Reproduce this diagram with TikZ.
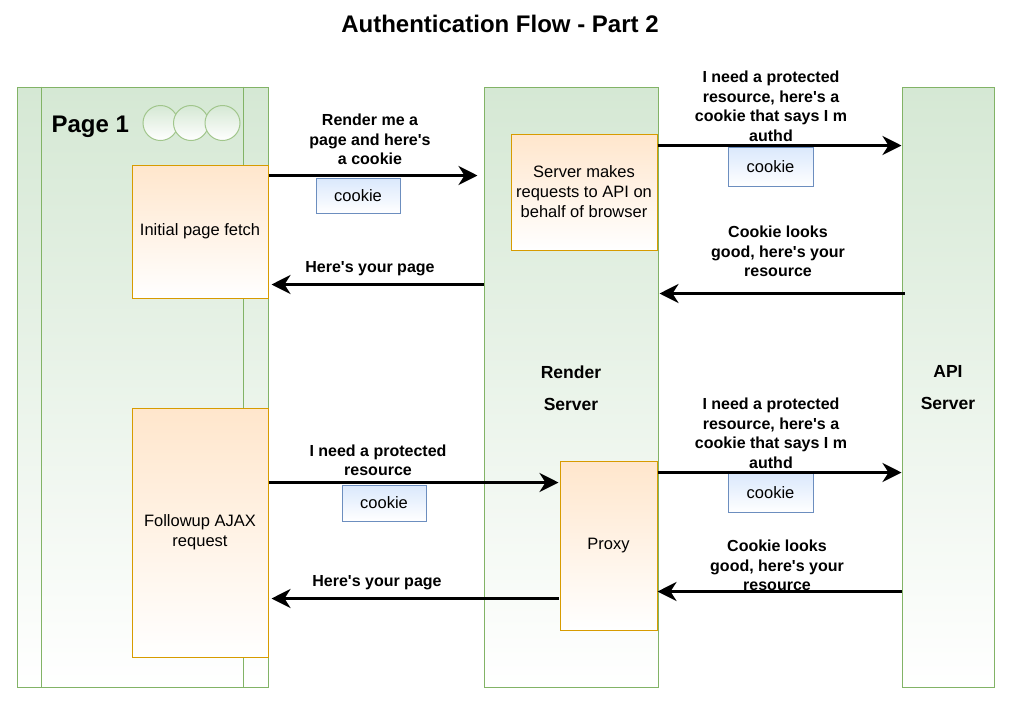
\documentclass[tikz,border=0pt]{standalone}
\usepackage{fontspec}
\setmainfont{Liberation Sans}[Ligatures=TeXOff]
\usetikzlibrary{positioning,calc,arrows.meta}
\definecolor{lanefill}{HTML}{D5E8D4}
\definecolor{laneline}{HTML}{82B366}
\definecolor{stepfill}{HTML}{FFE6CC}
\definecolor{stepline}{HTML}{D79B00}
\definecolor{tokfill}{HTML}{DAE8FC}
\definecolor{tokline}{HTML}{6C8EBF}

\begin{document}
\begin{tikzpicture}[x=1pt, y=-1pt,
        lane/.style={draw=laneline, line width=1pt, top color=lanefill, bottom color=white, minimum width=#1, minimum height=600pt, inner sep=0pt},
        stepbox/.style={draw=stepline, line width=1pt, top color=stepfill, bottom color=white, inner sep=0pt, align=center, font=\fontsize{16.5}{20}\selectfont},
        token/.style={draw=tokline, line width=1pt, top color=tokfill, bottom color=white, minimum width=84pt, inner sep=0pt, font=\fontsize{16.5}{20}\selectfont},
        dot/.style={circle, draw=laneline!75!white, line width=1pt, top color=lanefill, bottom color=white, minimum size=35pt, inner sep=0pt},
        msg/.style={align=center, font=\bfseries\fontsize{16}{19.5}\selectfont, yshift=-2.5pt},
        lanename/.style={align=center, font=\bfseries\fontsize{17.5}{32}\selectfont, yshift=-1pt},
        flow/.style={line width=3.2pt, -{Stealth[length=19pt, width=19pt, inset=6pt]}}
    ]
        \useasboundingbox (0,0) rectangle (1017,705);
        \node [font=\bfseries\fontsize{24}{28}\selectfont] (title) at (500,24) {Authentication Flow - Part 2};

        % lanes
        \node [lane=251pt] (page1) at (142.5,387) {};
        \draw [laneline, line width=1pt] ($(page1.north west)+(25,0)$) -- ($(page1.south west)+(25,0)$);
        \draw [laneline, line width=1pt] ($(page1.north east)+(-25,0)$) -- ($(page1.south east)+(-25,0)$);
        \node [lane=174pt] (render) at (571,387) {};
        \node [lane=92pt] (api) at (948,387) {};
        \node [lanename] at (render) {Render\\Server};
        \node [lanename] at (api) {API\\Server};

        \node [anchor=west, font=\bfseries\fontsize{24}{28}\selectfont] (pagename) at (48,127) {Page 1};
        \node [dot] (d1) at (160.5,123) {};
        \node [dot] (d2) at (191,123) {};
        \node [dot] (d3) at (222.5,123) {};

        % steps
        \node [stepbox, minimum width=136pt, minimum height=133pt] (fetch) at (200,231.5) {Initial page fetch};
        \node [stepbox, minimum width=136pt, minimum height=249pt] (ajax) at (200,532.5) {Followup AJAX\\request};
        \node [stepbox, minimum width=146pt, minimum height=116pt] (server) at (584,192) {Server makes\\requests to API on\\behalf of browser};
        \node [stepbox, minimum width=97pt, minimum height=169pt] (proxy) at (608.5,545.5) {Proxy};

        % cookies
        \node [token, minimum height=35pt] (c1) at (358,195.5) {cookie};
        \node [token, minimum width=85pt, minimum height=39pt] (c2) at (770.5,166.5) {cookie};
        \node [token, minimum height=36pt] (c3) at (384,503) {cookie};
        \node [token, minimum width=85pt, minimum height=39pt] (c4) at (770.5,492.5) {cookie};

        % messages
        \draw [flow] ($(fetch.north east)+(0,11)$) -- ($(fetch.north east -| render.west)+(-6,11)$);
        \draw [flow] ($(render.west |- fetch.north east)+(0,120)$) -- ($(fetch.north east)+(3,120)$);
        \draw [flow] ($(server.north east)+(0,12)$) -- ($(server.north east -| api.west)+(0,12)$);
        \draw [flow] ($(api.west |- server.south east)+(3,43)$) -- ($(server.south east)+(2,43)$);
        \draw [flow] ($(ajax.north east)+(0,75)$) -- ($(ajax.north east -| proxy.west)+(-1,75)$);
        \draw [flow] ($(proxy.south west)+(-1,-32)$) -- ($(ajax.east |- proxy.south west)+(3,-32)$);
        \draw [flow] ($(proxy.north east)+(0,12)$) -- ($(proxy.north east -| api.west)+(0,12)$);
        \draw [flow] ($(api.west |- proxy.south east)+(0,-39)$) -- ($(proxy.south east)+(0,-39)$);

        \node [msg] (m1) at (370,137) {Render me a\\page and here's\\a cookie};
        \node [msg] (m2) at (370,266) {Here's your page};
        \node [msg] (m3) at (771,104) {I need a protected\\resource, here's a\\cookie that says I m\\authd};
        \node [msg] (m4) at (778,249) {Cookie looks\\good, here's your\\resource};
        \node [msg] (m5) at (378,458) {I need a protected\\resource};
        \node [msg] (m6) at (377,580) {Here's your page};
        \node [msg] (m7) at (771,431) {I need a protected\\resource, here's a\\cookie that says I m\\authd};
        \node [msg] (m8) at (777,563) {Cookie looks\\good, here's your\\resource};
    \end{tikzpicture}
\end{document}
